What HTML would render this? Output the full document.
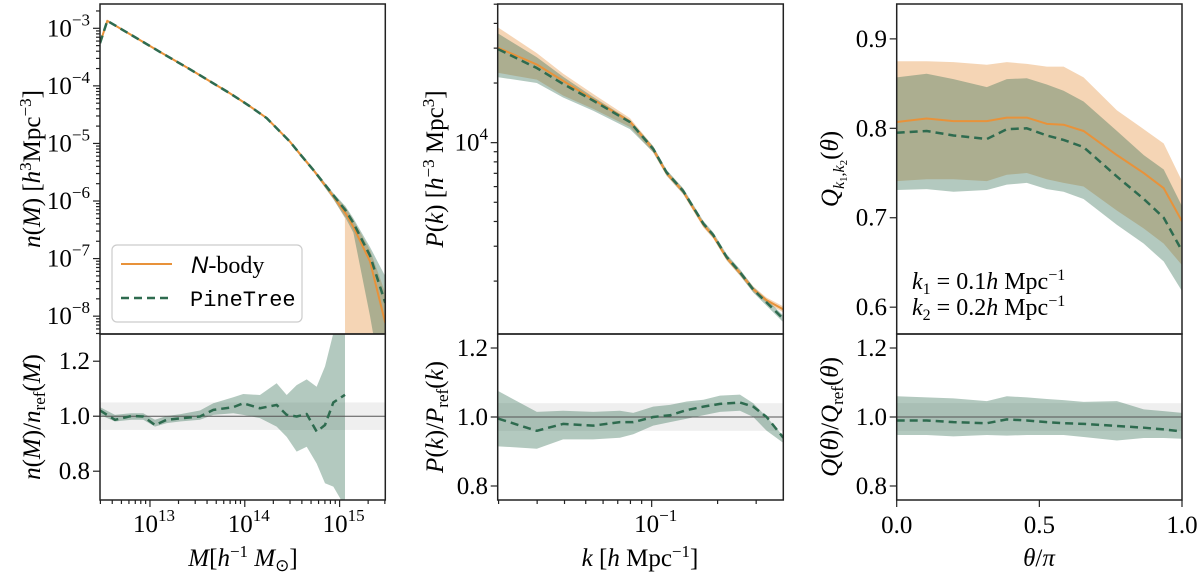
<!DOCTYPE html>
<html><head><meta charset="utf-8"><style>
html,body{margin:0;padding:0;background:#fff;}
svg{display:block;}
svg text{font-family:"Liberation Serif",serif;}
</style></head><body>
<svg id="fig" width="1200" height="577" viewBox="0 0 1200 577" xmlns="http://www.w3.org/2000/svg" font-family="Liberation Serif, serif">
<defs>
<clipPath id="cLT"><rect x="100" y="4" width="285.3" height="330"/></clipPath>
<clipPath id="cLB"><rect x="100" y="334" width="285.3" height="166"/></clipPath>
<clipPath id="cMT"><rect x="497.7" y="4" width="285.6" height="330"/></clipPath>
<clipPath id="cMB"><rect x="497.7" y="334" width="285.6" height="166"/></clipPath>
<clipPath id="cRT"><rect x="896.7" y="4" width="285.3" height="330"/></clipPath>
<clipPath id="cRB"><rect x="896.7" y="334" width="285.3" height="166"/></clipPath>
</defs>
<g id="marks"></g>
<g id="axes"></g>
<text transform="translate(40,169) rotate(-90)" text-anchor="middle" font-size="25"><tspan font-style="italic">n</tspan>(<tspan font-style="italic">M</tspan>) [<tspan font-style="italic">h</tspan><tspan font-size="17" dy="-9">3</tspan><tspan dy="9">Mpc</tspan><tspan font-size="17" dy="-9">−3</tspan><tspan dy="9">]</tspan></text>
<text transform="translate(40,417) rotate(-90)" text-anchor="middle" font-size="25"><tspan font-style="italic">n</tspan>(<tspan font-style="italic">M</tspan>)/<tspan font-style="italic">n</tspan><tspan font-size="17" dy="5">ref</tspan><tspan dy="-5">(</tspan><tspan font-style="italic">M</tspan>)</text>
<text transform="translate(443,169) rotate(-90)" text-anchor="middle" font-size="25"><tspan font-style="italic">P</tspan>(<tspan font-style="italic">k</tspan>) [<tspan font-style="italic">h</tspan><tspan font-size="17" dy="-9">−3</tspan><tspan dy="9"> Mpc</tspan><tspan font-size="17" dy="-9">3</tspan><tspan dy="9">]</tspan></text>
<text transform="translate(443,417) rotate(-90)" text-anchor="middle" font-size="25"><tspan font-style="italic">P</tspan>(<tspan font-style="italic">k</tspan>)/<tspan font-style="italic">P</tspan><tspan font-size="17" dy="5">ref</tspan><tspan dy="-5">(</tspan><tspan font-style="italic">k</tspan>)</text>
<text transform="translate(838,169) rotate(-90)" text-anchor="middle" font-size="25"><tspan font-style="italic">Q</tspan><tspan font-size="16" dy="6" font-style="italic">k</tspan><tspan font-size="11" dy="3">1</tspan><tspan font-size="16" dy="-3">,</tspan><tspan font-size="16" font-style="italic">k</tspan><tspan font-size="11" dy="3">2</tspan><tspan dy="-9">(</tspan><tspan font-style="italic">θ</tspan>)</text>
<text transform="translate(838,417) rotate(-90)" text-anchor="middle" font-size="25"><tspan font-style="italic">Q</tspan>(<tspan font-style="italic">θ</tspan>)/<tspan font-style="italic">Q</tspan><tspan font-size="17" dy="5">ref</tspan><tspan dy="-5">(</tspan><tspan font-style="italic">θ</tspan>)</text>
<text x="243" y="566" text-anchor="middle" font-size="25"><tspan font-style="italic">M</tspan>[<tspan font-style="italic">h</tspan><tspan font-size="17" dy="-9">−1</tspan><tspan dy="9"> </tspan><tspan font-style="italic">M</tspan><tspan font-size="17" dy="5">⊙</tspan><tspan dy="-5">]</tspan></text>
<text x="640" y="566" text-anchor="middle" font-size="25"><tspan font-style="italic">k</tspan> [<tspan font-style="italic">h</tspan> Mpc<tspan font-size="17" dy="-9">−1</tspan><tspan dy="9">]</tspan></text>
<text x="1039" y="566" text-anchor="middle" font-size="25"><tspan font-style="italic">θ</tspan>/<tspan font-style="italic">π</tspan></text>
<text x="912" y="289" font-size="24"><tspan font-style="italic">k</tspan><tspan font-size="16" dy="5">1</tspan><tspan dy="-5"> = 0.1</tspan><tspan font-style="italic">h</tspan> Mpc<tspan font-size="16" dy="-9">−1</tspan></text>
<text x="912" y="315" font-size="24"><tspan font-style="italic">k</tspan><tspan font-size="16" dy="5">2</tspan><tspan dy="-5"> = 0.2</tspan><tspan font-style="italic">h</tspan> Mpc<tspan font-size="16" dy="-9">−1</tspan></text>
<g>
<rect x="112" y="245" width="190" height="77" rx="5" fill="rgba(255,255,255,0.85)" stroke="#cccccc" stroke-width="1.2"/>
<line x1="121" y1="264" x2="172" y2="264" stroke="#e8923a" stroke-width="2"/>
<text x="191" y="273" font-size="24"><tspan font-family="Liberation Sans, sans-serif" font-style="italic">N</tspan>-body</text>
<line x1="121" y1="298" x2="172" y2="298" stroke="#2e6b4f" stroke-width="2.5" stroke-dasharray="8,5"/>
<text x="190" y="306" font-size="22" font-family="Liberation Mono, monospace" style="font-family:'Liberation Mono',monospace">PineTree</text>
</g>
</svg>
<script>
// ---------- data: halo mass function (log10 values) ----------
const massLogM = [12.473,12.55,13.105,13.42,13.844,14.05,14.231,14.477,14.58,14.723,14.934,15.056,15.058,15.145,15.321,15.482];
const nbodyLogN = [-3.26,-2.87,-3.41,-3.71,-4.13,-4.35,-4.56,-4.97,-5.18,-5.46,-5.92,-6.20,-6.20,-6.45,-7.05,-8.12];
const nbodyLogNHi = [-3.25,-2.86,-3.40,-3.70,-4.12,-4.34,-4.55,-4.95,-5.15,-5.43,-5.88,-6.10,-6.10,-6.33,-6.85,-7.60];
const nbodyLogNLo = [-3.27,-2.88,-3.42,-3.72,-4.14,-4.36,-4.57,-4.99,-5.21,-5.49,-5.96,-6.30,-9.5,-9.5,-9.5,-9.5];
const pineLogN = [-3.26,-2.87,-3.41,-3.71,-4.13,-4.35,-4.56,-4.97,-5.18,-5.46,-5.90,-6.15,-6.15,-6.38,-6.95,-7.77];
const pineLogNHi = [-3.25,-2.86,-3.40,-3.70,-4.12,-4.34,-4.55,-4.95,-5.15,-5.43,-5.86,-6.08,-6.08,-6.30,-6.80,-7.31];
const pineLogNLo = [-3.27,-2.88,-3.42,-3.72,-4.14,-4.36,-4.57,-4.99,-5.21,-5.49,-5.97,-6.28,-6.28,-6.55,-8.0,-9.5];
// ---------- data: mass function ratio ----------
const ratioLogM = [12.473,12.631,12.807,12.929,13.053,13.176,13.316,13.527,13.668,13.879,13.984,14.160,14.336,14.442,14.547,14.653,14.758,14.846,14.934,15.057];
const massRatio = [1.021,0.987,1.001,0.999,0.968,0.987,0.992,0.999,1.023,1.033,1.047,1.029,1.041,1.005,0.999,1.008,0.944,0.968,1.050,1.078];
const massRatioHi = [1.033,1.005,1.011,1.011,0.987,1.001,1.007,1.021,1.047,1.069,1.081,1.077,1.120,1.077,1.113,1.134,1.107,1.181,1.302,1.411];
const massRatioLo = [1.005,0.981,0.987,0.987,0.962,0.975,0.981,0.987,1.005,1.011,1.005,0.993,0.962,0.925,0.871,0.889,0.828,0.756,0.744,0.671];
// ---------- data: power spectrum ----------
const kVals = [0.01995,0.0299,0.0394,0.0541,0.0796,0.1016,0.1169,0.1393,0.1722,0.1910,0.2198,0.2529,0.2911,0.3350,0.3990];
const pkNbody = [30100,24800,20500,16500,12800,9270,7020,5660,3850,3380,2620,2200,1820,1600,1440];
const pkNbodyHi = [38100,28300,22300,17600,13300,9600,7250,5850,3970,3480,2700,2270,1880,1650,1490];
const pkNbodyLo = [22500,20800,17300,14800,12000,8900,6800,5480,3730,3280,2540,2130,1760,1550,1390];
const pkPine = [29600,23800,19800,16300,12700,9300,7080,5700,3900,3420,2650,2220,1810,1560,1290];
const pkPineHi = [35500,27000,21500,17000,13000,9600,7300,5890,4030,3530,2740,2300,1870,1620,1340];
const pkPineLo = [21400,20000,16900,14500,11700,8950,6850,5510,3770,3310,2560,2140,1750,1500,1240];
// ---------- data: power ratio ----------
const kRatio = [0.01995,0.0299,0.0394,0.0541,0.0716,0.0824,0.1016,0.1213,0.1445,0.1722,0.2051,0.2529,0.2911,0.3350,0.3990];
const pkRatio = [0.995,0.960,0.980,0.975,0.985,0.985,1.000,1.005,1.020,1.030,1.038,1.042,1.030,1.000,0.940];
const pkRatioHi = [1.075,1.015,1.018,1.015,1.018,1.012,1.030,1.035,1.045,1.050,1.062,1.065,1.040,1.000,0.945];
const pkRatioLo = [0.915,0.908,0.935,0.935,0.940,0.950,0.975,0.985,0.995,1.005,1.015,1.018,1.000,0.960,0.925];
// ---------- data: reduced bispectrum ----------
const theta = [0,0.105,0.199,0.316,0.386,0.456,0.526,0.585,0.655,0.772,0.866,0.936,1.0];
const qNbody = [0.807,0.811,0.808,0.808,0.812,0.812,0.805,0.804,0.797,0.770,0.750,0.733,0.696];
const qNbodyHi = [0.875,0.875,0.874,0.871,0.874,0.872,0.869,0.869,0.857,0.820,0.799,0.783,0.741];
const qNbodyLo = [0.741,0.743,0.743,0.741,0.748,0.750,0.743,0.739,0.735,0.708,0.688,0.671,0.647];
const qPine = [0.795,0.797,0.792,0.788,0.799,0.800,0.792,0.787,0.779,0.746,0.721,0.700,0.663];
const qPineHi = [0.857,0.861,0.855,0.846,0.855,0.856,0.849,0.842,0.830,0.797,0.770,0.754,0.713];
const qPineLo = [0.731,0.732,0.729,0.731,0.737,0.739,0.732,0.729,0.721,0.692,0.671,0.651,0.618];
const qRatio = [0.990,0.990,0.985,0.982,0.993,0.990,0.985,0.982,0.980,0.974,0.969,0.964,0.958];
const qRatioHi = [1.060,1.057,1.054,1.046,1.060,1.057,1.052,1.049,1.044,1.046,1.022,1.017,1.012];
const qRatioLo = [0.948,0.948,0.944,0.948,0.946,0.948,0.948,0.948,0.942,0.932,0.939,0.939,0.937];
// ---------- tick labels ----------
const massTickExp = [13,14,15];
const nTickExp = [-3,-4,-5,-6,-7,-8];
const ratioTicks = [0.8,1.0,1.2];
const pkTickExp = [4];
const kTickExp = [-1];
const qTicks = [0.6,0.7,0.8,0.9];
const thetaTicks = [0.0,0.5,1.0];

const NS = "http://www.w3.org/2000/svg";
const marks = document.getElementById('marks');
const axes = document.getElementById('axes');
function mk(tag, attrs, parent){const e=document.createElementNS(NS,tag);for(const k in attrs)e.setAttribute(k,attrs[k]);(parent||marks).appendChild(e);return e;}
function lin(d0,d1,r0,r1){return v=>r0+(v-d0)/(d1-d0)*(r1-r0);}
function logs(d0,d1,r0,r1){const f=lin(d0,d1,r0,r1);return v=>f(Math.log10(v));}

const xM = lin(12.473,15.482,100,385.3);
const yN = lin(-2.578,-8.31,4,334);
const yMR = lin(1.299,0.688,334,502);
const xK = logs(-1.703,-0.399,497.7,783.3);
const yP = logs(4.70,3.034,4,334);
const yR = lin(1.2406,0.7565,334,501);
const xT = lin(0,1,896.7,1182);
const yQ = lin(0.939,0.570,4,334);

function linePath(xs,ys,sx,sy){return xs.map((x,i)=>(i?'L':'M')+sx(x).toFixed(2)+','+sy(ys[i]).toFixed(2)).join('');}
function bandPath(xs,lo,hi,sx,sy){let d=linePath(xs,hi,sx,sy);for(let i=xs.length-1;i>=0;i--)d+='L'+sx(xs[i]).toFixed(2)+','+sy(lo[i]).toFixed(2);return d+'Z';}
const OF='rgba(230,150,70,0.4)', GF='rgba(47,107,79,0.365)', OL='#e8923a', GL='#2e6b4f';

function group(clip,name){const g=mk('g',{'clip-path':'url(#'+clip+')'});return g;}
function band(g,d,fill,name){const e=mk('path',{d:d,fill:fill,stroke:'none'},g);}
function ln(g,d,col,dash,name){const e=mk('path',{d:d,fill:'none',stroke:col,'stroke-width':dash?2.5:2,'stroke-dasharray':dash?'8,5':'none','stroke-linejoin':'round'},g);}
function refBand(g,x0,x1,y0,y1,name){const e=mk('rect',{x:x0,y:Math.min(y0,y1),width:x1-x0,height:Math.abs(y1-y0),fill:'#efefef'},g);}
function hline(g,x0,x1,y,name){const e=mk('line',{x1:x0,x2:x1,y1:y,y2:y,stroke:'#555',"stroke-width":1},g);}

let g=group('cLT','mass-function-plot');
band(g,bandPath(massLogM,nbodyLogNLo,nbodyLogNHi,xM,yN),OF,'nbody-mass-band');
band(g,bandPath(massLogM,pineLogNLo,pineLogNHi,xM,yN),GF,'pinetree-mass-band');
ln(g,linePath(massLogM,nbodyLogN,xM,yN),OL,false,'nbody-mass-line');
ln(g,linePath(massLogM,pineLogN,xM,yN),GL,true,'pinetree-mass-line');
g=group('cLB','mass-ratio-plot');
refBand(g,100,385.3,yMR(1.05),yMR(0.95),'mass-ratio-reference-band');
band(g,bandPath(ratioLogM,massRatioLo,massRatioHi,xM,yMR),GF,'mass-ratio-band');
hline(g,100,385.3,yMR(1.0),'mass-ratio-unity-line');
ln(g,linePath(ratioLogM,massRatio,xM,yMR),GL,true,'mass-ratio-line');
g=group('cMT','power-spectrum-plot');
band(g,bandPath(kVals,pkNbodyLo,pkNbodyHi,xK,yP),OF,'nbody-pk-band');
band(g,bandPath(kVals,pkPineLo,pkPineHi,xK,yP),GF,'pinetree-pk-band');
ln(g,linePath(kVals,pkNbody,xK,yP),OL,false,'nbody-pk-line');
ln(g,linePath(kVals,pkPine,xK,yP),GL,true,'pinetree-pk-line');
g=group('cMB','power-ratio-plot');
refBand(g,497.7,783.3,yR(1.04),yR(0.96),'pk-ratio-reference-band');
band(g,bandPath(kRatio,pkRatioLo,pkRatioHi,xK,yR),GF,'pk-ratio-band');
hline(g,497.7,783.3,yR(1.0),'pk-ratio-unity-line');
ln(g,linePath(kRatio,pkRatio,xK,yR),GL,true,'pk-ratio-line');
g=group('cRT','bispectrum-plot');
band(g,bandPath(theta,qNbodyLo,qNbodyHi,xT,yQ),OF,'nbody-q-band');
band(g,bandPath(theta,qPineLo,qPineHi,xT,yQ),GF,'pinetree-q-band');
ln(g,linePath(theta,qNbody,xT,yQ),OL,false,'nbody-q-line');
ln(g,linePath(theta,qPine,xT,yQ),GL,true,'pinetree-q-line');
g=group('cRB','bispectrum-ratio-plot');
refBand(g,896.7,1182,yR(1.04),yR(0.96),'q-ratio-reference-band');
band(g,bandPath(theta,qRatioLo,qRatioHi,xT,yR),GF,'q-ratio-band');
hline(g,896.7,1182,yR(1.0),'q-ratio-unity-line');
ln(g,linePath(theta,qRatio,xT,yR),GL,true,'q-ratio-line');

function frame(x,y,w,h,name){const e=mk('rect',{x:x,y:y,width:w,height:h,fill:'none',stroke:'#222','stroke-width':1.5},axes);}
frame(100,4,285.3,330,'mass-function-axes');frame(100,334,285.3,166,'mass-ratio-axes');
frame(497.7,4,285.6,330,'power-spectrum-axes');frame(497.7,334,285.6,166,'power-ratio-axes');
frame(896.7,4,285.3,330,'bispectrum-axes');frame(896.7,334,285.3,166,'bispectrum-ratio-axes');
function yt(x,y,len){mk('line',{x1:x,x2:x-len,y1:y,y2:y,stroke:'#222','stroke-width':1.2},axes);}
function xt(x,y,len){mk('line',{x1:x,x2:x,y1:y,y2:y+len,stroke:'#222','stroke-width':1.2},axes);}
function txt(x,y,anchor,html,name){const e=mk('text',{x:x,y:y,'text-anchor':anchor,'font-size':25,'font-family':'Liberation Serif, serif'},axes);e.innerHTML=html;return e;}
function powLabel(exp){return '10<tspan font-size="17" dy="-11">'+(exp<0?'−'+(-exp):exp)+'</tspan>';}

nTickExp.forEach(e=>{const y=yN(e);yt(100,y,7);txt(90,y+8,'end',powLabel(e),'y-tick-label');});
for(let e=-9;e<=-3;e++)for(let m=2;m<=9;m++){const v=e+Math.log10(m);if(v<=-2.578&&v>=-8.31)yt(100,yN(v),4);}
ratioTicks.forEach(v=>{const y=yMR(v);yt(100,y,7);txt(90,y+8,'end',v.toFixed(1),'y-tick-label');});
massTickExp.forEach(e=>{const x=xM(e);xt(x,500,7);txt(x+4,532,'middle',powLabel(e),'x-tick-label');});
for(let e=12;e<=15;e++)for(let m=2;m<=9;m++){const v=e+Math.log10(m);if(v>=12.473&&v<=15.482)xt(xM(v),500,4);}
pkTickExp.forEach(e=>{const y=yP(Math.pow(10,e));yt(497.7,y,7);txt(488,y+8,'end',powLabel(e),'y-tick-label');});
for(let e=3;e<=4;e++)for(let m=2;m<=9;m++){const v=m*Math.pow(10,e);if(Math.log10(v)<=4.70&&Math.log10(v)>=3.034)yt(497.7,yP(v),4);}
ratioTicks.forEach(v=>{const y=yR(v);yt(497.7,y,7);txt(488,y+8,'end',v.toFixed(1),'y-tick-label');});
kTickExp.forEach(e=>{const x=xK(Math.pow(10,e));xt(x,500,7);txt(x+4,532,'middle',powLabel(e),'x-tick-label');});
for(let e=-2;e<=-1;e++)for(let m=2;m<=9;m++){const v=m*Math.pow(10,e);const l=Math.log10(v);if(l>=-1.703&&l<=-0.399)xt(xK(v),500,4);}
qTicks.forEach(v=>{const y=yQ(v);yt(896.7,y,7);txt(887,y+8,'end',v.toFixed(1),'y-tick-label');});
ratioTicks.forEach(v=>{const y=yR(v);yt(896.7,y,7);txt(887,y+8,'end',v.toFixed(1),'y-tick-label');});
thetaTicks.forEach(v=>{const x=xT(v);xt(x,500,7);txt(x,533,'middle',v.toFixed(1),'x-tick-label');});
</script>
</body></html>
